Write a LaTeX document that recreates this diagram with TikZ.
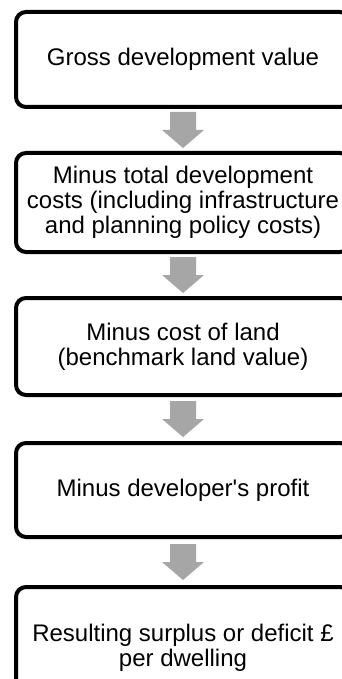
\documentclass[tikz,border=0pt]{standalone}
\usepackage{fontspec}
\setmainfont{Liberation Sans}
\usetikzlibrary{calc}
\definecolor{arrowgray}{HTML}{A6A6A6}
\tikzset{
  stagebox/.style={draw=black, line width=4pt, rounded corners=10pt,
    minimum width=334pt, align=center, inner sep=0pt,
    font=\fontsize{24}{25}\selectfont},
  flowarrow/.style={fill=arrowgray, draw=none}
}
% block arrow centred on the midpoint between two boxes
\newcommand{\blockarrow}[2]{%
  \coordinate (m) at ($(#1.south)!0.5!(#2.north)$);
  \fill[flowarrow] ($(m)+(-13,-18)$) -- ($(m)+(13,-18)$) -- ($(m)+(13,0)$)
    -- ($(m)+(21,0)$) -- ($(m)+(0,18)$) -- ($(m)+(-21,0)$)
    -- ($(m)+(-13,0)$) -- cycle;}
\begin{document}
\begin{tikzpicture}[x=1pt,y=-1pt]
  \useasboundingbox (0,0) rectangle (342,679);
  \clip (0,0) rectangle (342,679);
  \fill[white] (0,0) rectangle (342,679);

  \node[stagebox, minimum height=95pt] (b1) at (183,59.5)
    {Gross development value};
  \node[stagebox, minimum height=99pt] (b2) at (183,202.5)
    {Minus total development\\costs (including infrastructure\\and planning policy costs)};
  \node[stagebox, minimum height=97pt] (b3) at (183,346.5)
    {Minus cost of land\\(benchmark land value)};
  \node[stagebox, minimum height=94pt] (b4) at (183,490)
    {Minus developer\textquotesingle s profit};
  \node[stagebox, minimum height=121pt] (b5) at (183,647.5)
    {Resulting surplus or deficit £\\per dwelling};

  \blockarrow{b1}{b2}
  \blockarrow{b2}{b3}
  \blockarrow{b3}{b4}
  \blockarrow{b4}{b5}
\end{tikzpicture}
\end{document}
